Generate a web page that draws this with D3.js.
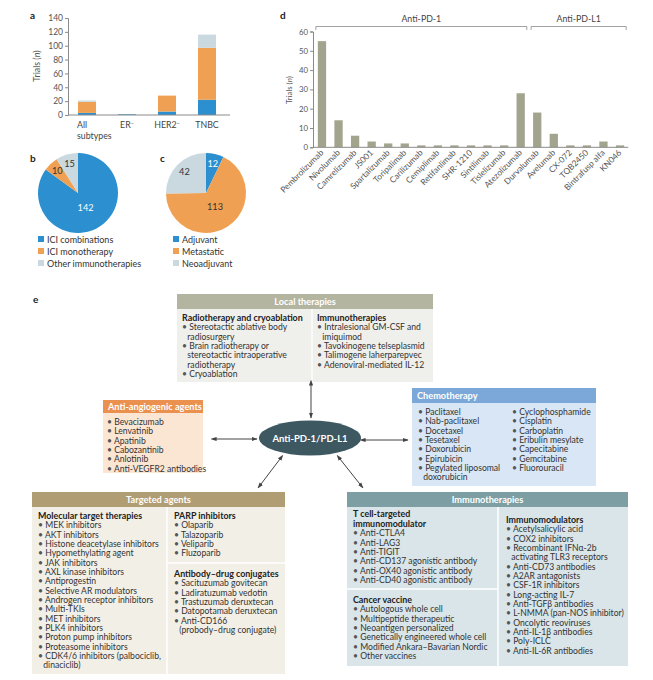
<!DOCTYPE html>
<html><head><meta charset="utf-8">
<script src="https://cdn.jsdelivr.net/npm/d3@7"></script>
<style>
body{margin:0;background:#fff;}
svg{font-family:Lato,"Open Sans",sans-serif;}
</style></head>
<body><svg id="chart" width="653" height="680"></svg>
<script>
// ---------- DATA ----------
const aCategories = ["All subtypes", "ER-", "HER2-", "TNBC"];
const aBlue   = [3, 1, 5, 22];
const aOrange = [16, 0, 23, 75];
const aGrey   = [2, 0, 0, 19];
const aTicks  = [0, 20, 40, 60, 80, 100, 120, 140];

const bLabels = ["ICI combinations", "ICI monotherapy", "Other immunotherapies"];
const bValues = [142, 10, 15];
const cLabels = ["Adjuvant", "Metastatic", "Neoadjuvant"];
const cValues = [12, 113, 42];

const dDrugs = ["Pembrolizumab","Nivolumab","Camrelizumab","JS001","Spartalizumab","Toripalimab","Carilizumab","Cemiplimab","Retifanlimab","SHR-1210","Sintilimab","Tislelizumab","Atezolizumab","Durvalumab","Avelumab","CX-072","TQB2450","Bintrafusp alfa","KN046"];
const dValues = [55, 14, 6, 3, 2, 2, 1, 1, 1, 1, 1, 1, 28, 18, 7, 1, 1, 3, 1];
const dTicks = [0, 10, 20, 30, 40, 50, 60];
const dGroups = [{name:"Anti-PD-1", first:"Pembrolizumab", last:"Atezolizumab"},
                 {name:"Anti-PD-L1", first:"Durvalumab", last:"KN046"}];

const localRadio = ["Stereotactic ablative body\nradiosurgery","Brain radiotherapy or\nstereotactic intraoperative\nradiotherapy","Cryoablation"];
const localImmuno = ["Intralesional GM-CSF and\nimiquimod","Tavokinogene telseplasmid","Talimogene laherparepvec","Adenoviral-mediated IL-12"];
const antiAngio = ["Bevacizumab","Lenvatinib","Apatinib","Cabozantinib","Anlotinib","Anti-VEGFR2 antibodies"];
const chemo1 = ["Paclitaxel","Nab-paclitaxel","Docetaxel","Tesetaxel","Doxorubicin","Epirubicin","Pegylated liposomal\ndoxorubicin"];
const chemo2 = ["Cyclophosphamide","Cisplatin","Carboplatin","Eribulin mesylate","Capecitabine","Gemcitabine","Fluorouracil"];
const molTarget = ["MEK inhibitors","AKT inhibitors","Histone deacetylase inhibitors","Hypomethylating agent","JAK inhibitors","AXL kinase inhibitors","Antiprogestin","Selective AR modulators","Androgen receptor inhibitors","Multi-TKIs","MET inhibitors","PLK4 inhibitors","Proton pump inhibitors","Proteasome inhibitors","CDK4/6 inhibitors (palbociclib,\ndinaciclib)"];
const parp = ["Olaparib","Talazoparib","Veliparib","Fluzoparib"];
const adc = ["Sacituzumab govitecan","Ladiratuzumab vedotin","Trastuzumab deruxtecan","Datopotamab deruxtecan","Anti-CD166\n(probody\u2013drug conjugate)"];
const tcell = ["Anti-CTLA4","Anti-LAG3","Anti-TIGIT","Anti-CD137 agonistic antibody","Anti-OX40 agonistic antibody","Anti-CD40 agonistic antibody"];
const vaccine = ["Autologous whole cell","Multipeptide therapeutic","Neoantigen personalized","Genetically engineered whole cell","Modified Ankara\u2013Bavarian Nordic","Other vaccines"];
const immunomod = ["Acetylsalicylic acid","COX2 inhibitors","Recombinant IFN\u03b1-2b\nactivating TLR3 receptors","Anti-CD73 antibodies","A2AR antagonists","CSF-1R inhibitors","Long-acting IL-7","Anti-TGF\u03b2 antibodies","L-NMMA (pan-NOS inhibitor)","Oncolytic reoviruses","Anti-IL-1\u03b2 antibodies","Poly-ICLC","Anti-IL-6R antibodies"];

// ---------- STYLE ----------
const BLUE = "#2b8fd0", ORANGE = "#f0a052", GREY = "#c9d9df";
const AXIS = "#8a8a8a", TXT = "#555";
const svg = d3.select("#chart");

function panelLabel(t, x, y){
  svg.append("text").attr("x", x).attr("y", y).text(t)
    .attr("font-weight", 700).attr("font-size", 10).attr("fill", "#222");
}
function trialsLabel(g, x, y, fs){
  const t = g.append("text").attr("transform",`translate(${x},${y}) rotate(-90)`).attr("text-anchor","middle")
    .attr("font-size",fs).attr("fill",TXT);
  t.append("tspan").text("Trials (");
  t.append("tspan").attr("font-style","italic").text("n");
  t.append("tspan").text(")");
}

// ---------- PANEL a ----------
panelLabel("a", 30, 19);
const ay = d3.scaleLinear().domain([0, 140]).range([115, 18]);
const ax = d3.scaleBand().domain(aCategories).range([67, 227]).paddingInner(0.55).paddingOuter(0.275);
const aStack = d3.stack().keys(["blue","orange","grey"])(aCategories.map((c,i)=>({cat:c, blue:aBlue[i], orange:aOrange[i], grey:aGrey[i]})));
const aColors = {blue:BLUE, orange:ORANGE, grey:GREY};
const ga = svg.append("g");
aStack.forEach(layer=>{
  ga.selectAll(null).data(layer).join("rect")
    .attr("x", d=>ax(d.data.cat)).attr("width", ax.bandwidth())
    .attr("y", d=>ay(d[1])).attr("height", d=>ay(d[0])-ay(d[1]))
    .attr("fill", aColors[layer.key]);
});
const aAxis = ga.append("g").attr("transform","translate(68,0)")
  .call(d3.axisLeft(ay).tickValues(aTicks).tickSize(3).tickPadding(2));
aAxis.select(".domain").attr("stroke", AXIS);
aAxis.selectAll(".tick line").attr("stroke", AXIS);
aAxis.selectAll("text").attr("font-size", 8.5).attr("fill", TXT).attr("font-family","Lato");
ga.append("line").attr("x1",68).attr("x2",230).attr("y1",ay(0)).attr("y2",ay(0)).attr("stroke",AXIS);
trialsLabel(ga, 40, 66, 8.8);
aCategories.forEach(c=>{
  const t = ga.append("text").attr("x", ax(c)).attr("y", 128).attr("font-size", 8.8).attr("fill", "#444");
  if(c==="All subtypes"){
    t.append("tspan").attr("x", ax(c)-1).text("All");
    t.append("tspan").attr("x", ax(c)-1).attr("dy", 11).text("subtypes");
  } else {
    const base = c.replace("-","");
    t.attr("x", ax(c)+ax.bandwidth()/2).attr("text-anchor","middle");
    t.append("tspan").text(base);
    if(c.endsWith("-")) t.append("tspan").attr("font-size",5.5).attr("dy",-3.5).text("\u2212");
  }
});

// ---------- PIES b & c ----------
function drawPie(values, labels, colors, cx, cy, legendX){
  const R = 40;
  const g = svg.append("g").attr("transform",`translate(${cx},${cy})`);
  const arcs = d3.pie().sort(null)(values);
  const arc = d3.arc().innerRadius(0).outerRadius(R);
  const total = d3.sum(values);
  g.selectAll("path").data(arcs).join("path").attr("d", arc).attr("fill",(d,i)=>colors[i]);
  g.selectAll("text").data(arcs).join("text")
    .attr("transform", d=>{
      const r = d.value/total > 0.5 ? 0.42*R : 0.76*R;
      const la = d3.arc().innerRadius(r).outerRadius(r);
      return `translate(${la.centroid(d)})`;
    })
    .attr("text-anchor","middle").attr("dy","0.35em").attr("font-size",9.2)
    .attr("fill",(d,i)=> colors[i]===BLUE ? "#fff" : "#333").text(d=>d.value);
  const lg = svg.append("g");
  labels.forEach((l,i)=>{
    lg.append("rect").attr("x", legendX).attr("y", cy+43+i*12).attr("width",6).attr("height",6).attr("fill",colors[i]);
    lg.append("text").attr("x", legendX+9).attr("y", cy+49.5+i*12).attr("font-size",9).attr("fill","#333").text(l);
  });
}
panelLabel("b", 30, 162);
drawPie(bValues, bLabels, [BLUE, ORANGE, GREY], 78, 193, 38);
panelLabel("c", 160, 162);
drawPie(cValues, cLabels, [BLUE, ORANGE, GREY], 206, 193, 173);

// ---------- PANEL d ----------
panelLabel("d", 280, 19);
const dy = d3.scaleLinear().domain([0, 60]).range([147.3, 31.5]);
const dx = d3.scaleBand().domain(dDrugs).range([313.7, 628.3]).paddingInner(0.5).paddingOuter(0.25);
const gd = svg.append("g");
gd.selectAll("rect").data(dDrugs).join("rect")
  .attr("x", d=>dx(d)).attr("width", dx.bandwidth())
  .attr("y", (d,i)=>dy(dValues[i])).attr("height",(d,i)=>dy(0)-dy(dValues[i]))
  .attr("fill","#a3a48d");
const dAxis = gd.append("g").attr("transform","translate(313,0)")
  .call(d3.axisLeft(dy).tickValues(dTicks).tickSize(3).tickPadding(2));
dAxis.select(".domain").attr("stroke", AXIS);
dAxis.selectAll(".tick line").attr("stroke", AXIS);
dAxis.selectAll("text").attr("font-size", 7.8).attr("fill", TXT).attr("font-family","Lato");
gd.append("line").attr("x1",313).attr("x2",628.3).attr("y1",dy(0)).attr("y2",dy(0)).attr("stroke",AXIS);
trialsLabel(gd, 292, 90, 7.8);
gd.selectAll("text.xl").data(dDrugs).join("text").attr("class","xl")
  .attr("transform", d=>`translate(${dx(d)+dx.bandwidth()/2+2},${dy(0)+6}) rotate(-45)`)
  .attr("text-anchor","end").attr("font-size",8.4).attr("fill",TXT).text(d=>d);
dGroups.forEach(gr=>{
  const x1 = dx(gr.first)-2, x2 = dx(gr.last)+dx.bandwidth()+2;
  gd.append("path").attr("d",`M${x1},30V26.5H${x2}V30`).attr("fill","none").attr("stroke",AXIS).attr("stroke-width",0.8);
  gd.append("text").attr("x",(x1+x2)/2).attr("y",22).attr("text-anchor","middle")
    .attr("font-size",8.8).attr("fill","#444").text(gr.name);
});

// ---------- PANEL e ----------
panelLabel("e", 33, 303);
const LH = 9.33, FS = 8.6;
function box(x, y, w, hh, bh, hc, bc, title){
  const g = svg.append("g");
  g.append("rect").attr("x",x).attr("y",y).attr("width",w).attr("height",hh).attr("fill",hc);
  g.append("rect").attr("x",x).attr("y",y+hh).attr("width",w).attr("height",bh).attr("fill",bc);
  g.append("text").attr("x",x+w/2).attr("y",y+hh/2+3.3).attr("text-anchor","middle")
    .attr("font-size",9.2).attr("font-weight",700).attr("fill","#fff").text(title);
  return g;
}
function block(g, x, y, title, items){
  let yy = y;
  if(title){
    title.split("\n").forEach((t,k)=>{
      g.append("text").attr("x",x).attr("y",yy).attr("font-size",8.9).attr("font-weight",700).attr("fill","#222").text(t);
      yy += LH;
    });
  }
  items.forEach(it=>{
    it.split("\n").forEach((t,j)=>{
      const tx = g.append("text").attr("x",x).attr("y",yy).attr("font-size",FS).attr("fill","#333");
      if(j===0){ tx.append("tspan").attr("fill","#555").text("\u2022 "); tx.append("tspan").text(t); }
      else { tx.attr("x", x+5.3).text(t); }
      yy += LH;
    });
  });
}
// Local therapies
const gl = box(177, 294, 256, 15, 73, "#b4b5a1", "#efefec", "Local therapies");
gl.append("line").attr("x1",312).attr("x2",312).attr("y1",309).attr("y2",382).attr("stroke","#fff").attr("stroke-width",1.2);
block(gl, 182, 321, "Radiotherapy and cryoablation", localRadio);
block(gl, 317, 321, "Immunotherapies", localImmuno);
// Anti-angiogenic
const ga2 = box(103, 400, 100, 13, 60, "#ea9150", "#fbe6d3", "Anti-angiogenic agents");
ga2.select("text").attr("x",108).attr("text-anchor","start");
block(ga2, 107, 425, null, antiAngio);
// Chemotherapy
const gc = box(412, 388, 184, 15, 83, "#7ba8d8", "#d8e6f5", "Chemotherapy");
gc.select("text").attr("x",417).attr("text-anchor","start");
block(gc, 418, 415, null, chemo1);
block(gc, 512, 415, null, chemo2);
// Targeted agents
const gt = box(32, 492, 253, 15, 167, "#b19d74", "#f2efe7", "Targeted agents");
gt.append("line").attr("x1",167).attr("x2",167).attr("y1",507).attr("y2",674).attr("stroke","#fff").attr("stroke-width",1.5);
gt.append("line").attr("x1",167).attr("x2",285).attr("y1",563).attr("y2",563).attr("stroke","#fff").attr("stroke-width",1.5);
block(gt, 38, 519, "Molecular target therapies", molTarget);
block(gt, 174, 519, "PARP inhibitors", parp);
block(gt, 174, 577, "Antibody\u2013drug conjugates", adc);
// Immunotherapies
const gi = box(347, 492, 281, 15, 159, "#7d9fa4", "#d9e5e8", "Immunotherapies");
gi.append("line").attr("x1",498).attr("x2",498).attr("y1",507).attr("y2",666).attr("stroke","#fff").attr("stroke-width",1.5);
gi.append("line").attr("x1",347).attr("x2",498).attr("y1",589).attr("y2",589).attr("stroke","#fff").attr("stroke-width",1.5);
block(gi, 353, 517, "T cell-targeted", []);
block(gi, 353, 527, "immunomodulator", tcell);
block(gi, 353, 603, "Cancer vaccine", vaccine);
block(gi, 506, 523, "Immunomodulators", immunomod);

// Central node & arrows
const defs = svg.append("defs");
["s","e"].forEach(k=>{
  defs.append("marker").attr("id","ar"+k).attr("viewBox","0 0 10 10").attr("refX",k==="e"?9:1).attr("refY",5)
    .attr("markerWidth",6).attr("markerHeight",6).attr("orient","auto-start-reverse")
    .append("path").attr("d","M0,1.5L10,5L0,8.5z").attr("fill","#444");
});
const arrows = [[311,385,311,418],[216,439,257,439],[365,440,408,440],[280,459,258,488],[340,459,363,488]];
arrows.forEach(a=>{
  svg.append("line").attr("x1",a[0]).attr("y1",a[1]).attr("x2",a[2]).attr("y2",a[3])
    .attr("stroke","#444").attr("stroke-width",1)
    .attr("marker-start","url(#ars)").attr("marker-end","url(#are)");
});
svg.append("ellipse").attr("cx",310).attr("cy",438).attr("rx",51).attr("ry",17.5).attr("fill","#3e5862");
svg.append("text").attr("x",310).attr("y",441.5).attr("text-anchor","middle").attr("font-size",9.5)
  .attr("font-weight",700).attr("fill","#fff").text("Anti-PD-1/PD-L1");
</script></body></html>
